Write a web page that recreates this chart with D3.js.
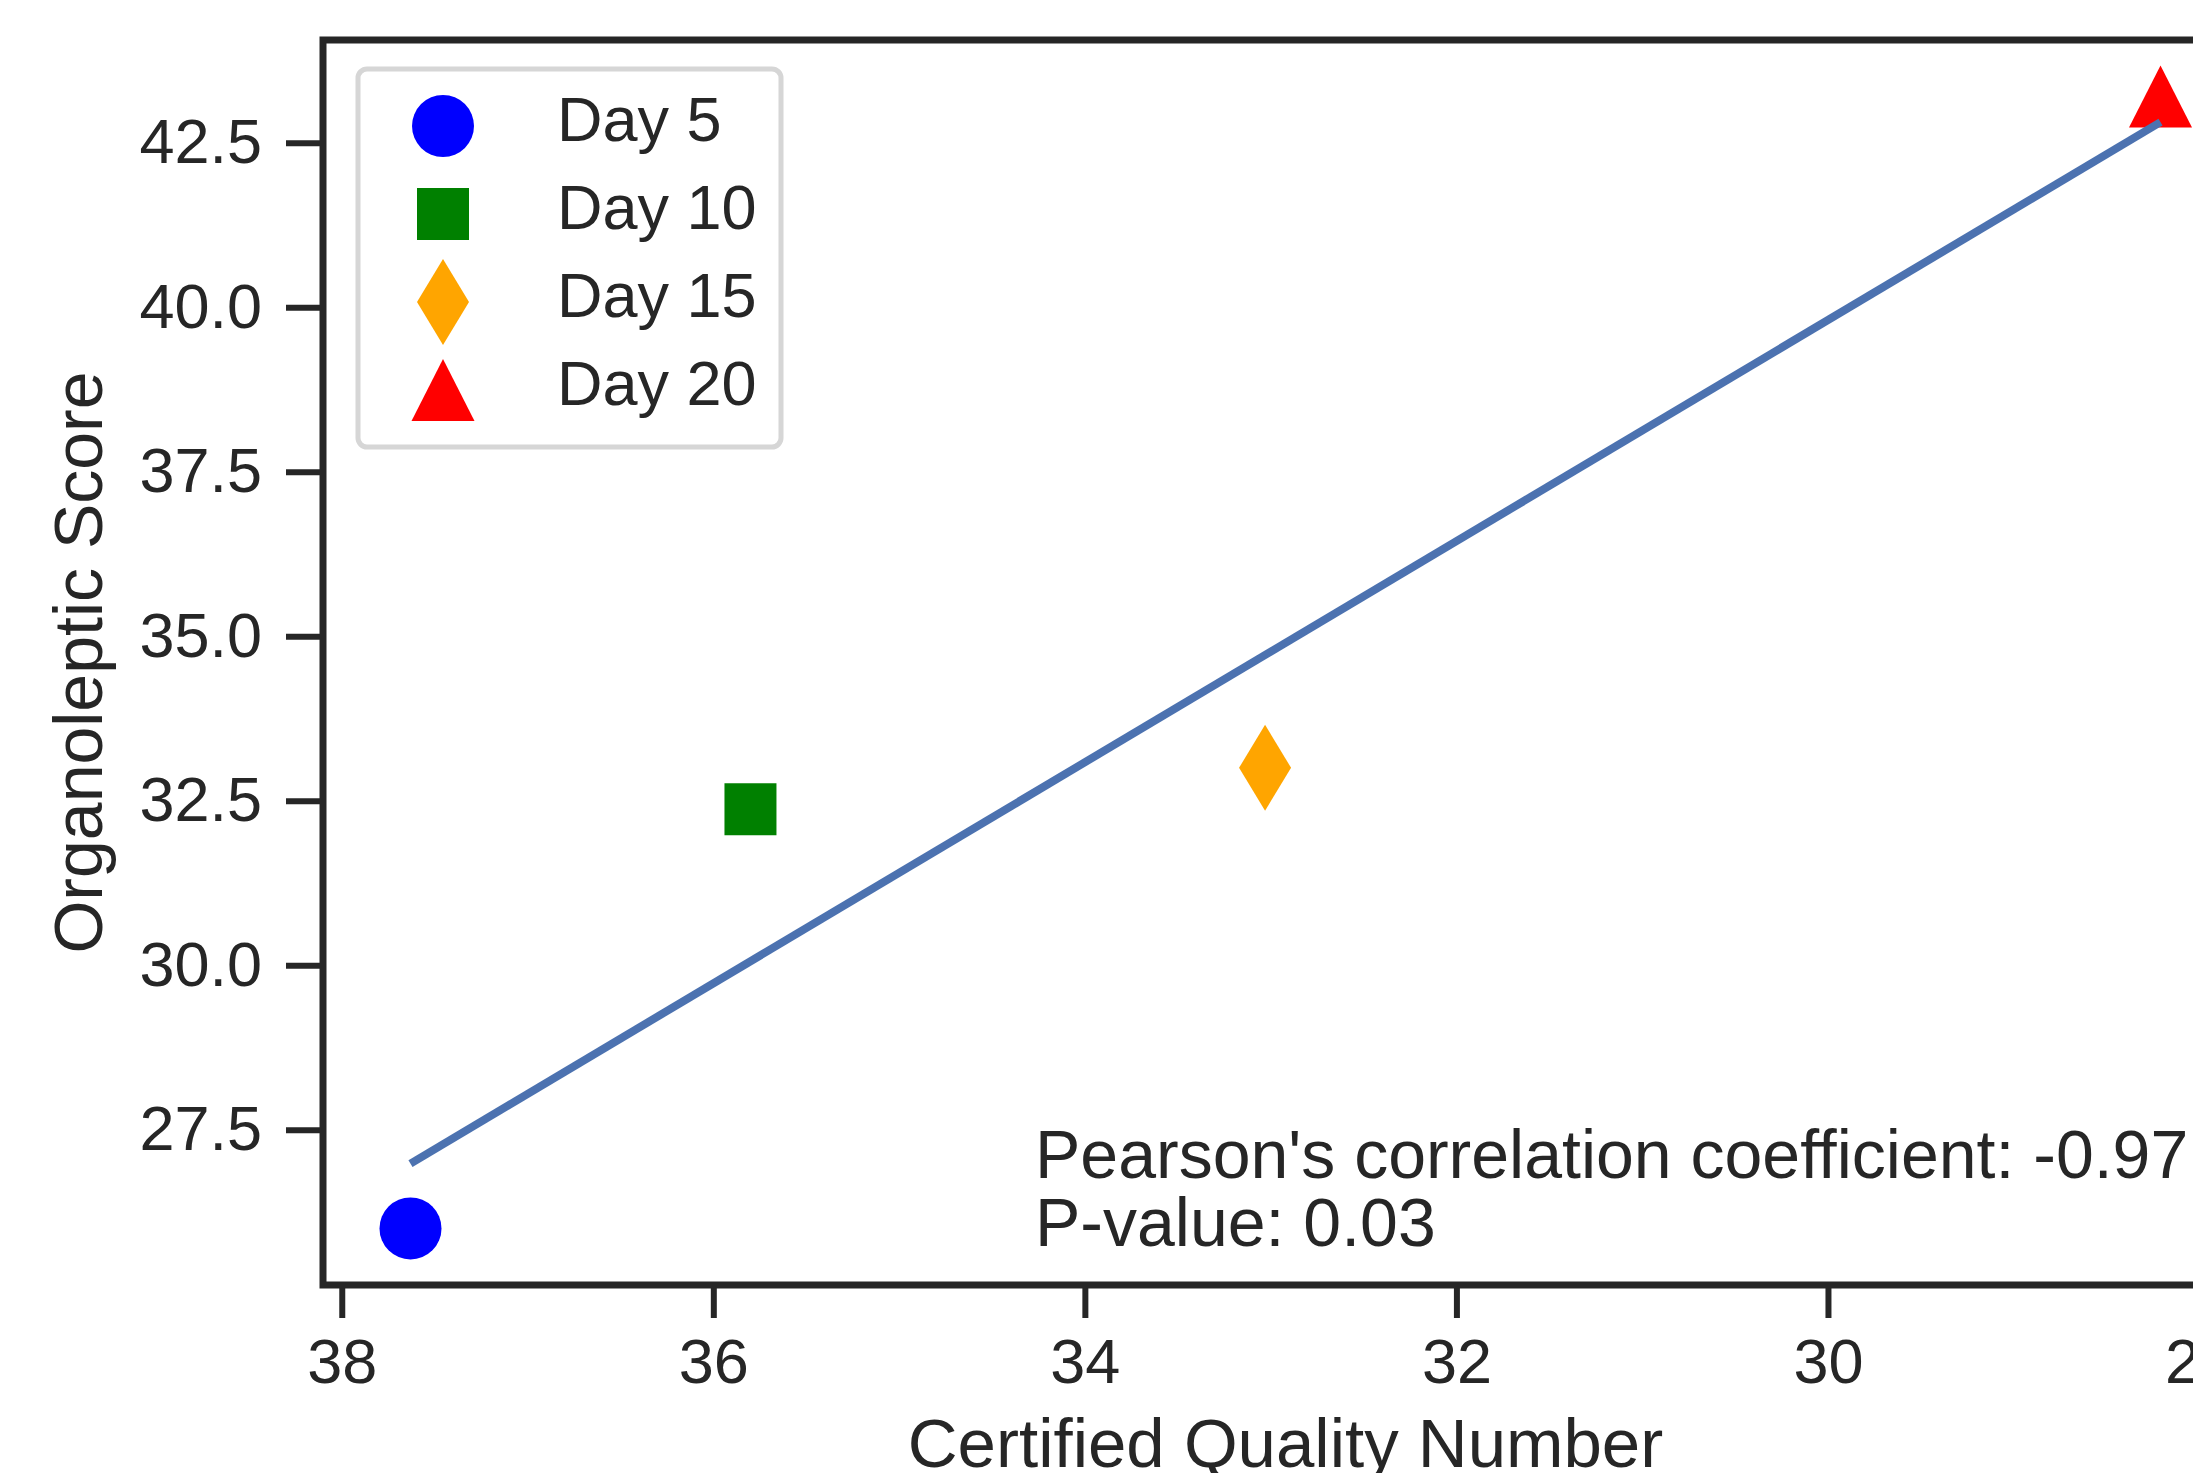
<!DOCTYPE html>
<html>
<head>
<meta charset="utf-8">
<script src="https://cdn.jsdelivr.net/npm/d3@7"></script>
<style>
  html, body { margin: 0; padding: 0; background: #fff; }
  svg { display: block; font-family: "Liberation Sans", Arial, sans-serif; }
</style>
</head>
<body>
<svg id="chart"></svg>
<script>
const width = 2193, height = 1473;

// data
const days = ["Day 5", "Day 10", "Day 15", "Day 20"];
const cqn = [37.63, 35.8, 33.03, 28.21];          // Certified Quality Number
const organoleptic = [26.0, 32.37, 33.0, 43.2];   // Organoleptic Score
const markerColors = ["blue", "green", "orange", "red"];
const markerShapes = ["circle", "square", "thin_diamond", "triangle"];
const xTicks = [38, 36, 34, 32, 30, 28];
const yTicks = [27.5, 30.0, 32.5, 35.0, 37.5, 40.0, 42.5];
const statLines = ["Pearson's correlation coefficient: -0.97", "P-value: 0.03"];

const ink = "#262626";
const axLeft = 323, axTop = 40, axBottom = 1285, axWidth = 1925;

const svg = d3.select("#chart")
    .attr("width", width)
    .attr("height", height)
    .attr("viewBox", `0 0 ${width} ${height}`);

svg.append("rect").attr("width", width).attr("height", height).attr("fill", "#fff");

// matplotlib-like 5% margins, x axis inverted
const xExt = d3.extent(cqn), yExt = d3.extent(organoleptic);
const xPad = (xExt[1] - xExt[0]) * 0.05, yPad = (yExt[1] - yExt[0]) * 0.05;

const x = d3.scaleLinear()
    .domain([xExt[1] + xPad, xExt[0] - xPad])
    .range([axLeft, axLeft + axWidth]);

const y = d3.scaleLinear()
    .domain([yExt[0] - yPad, yExt[1] + yPad])
    .range([axBottom, axTop]);

// axes
const xAxis = svg.append("g")
    .attr("transform", `translate(0,${axBottom})`)
    .call(d3.axisBottom(x).tickValues(xTicks).tickSize(33).tickPadding(20).tickFormat(d3.format("d")));
xAxis.select(".domain").remove();
xAxis.selectAll(".tick line").attr("stroke", ink).attr("stroke-width", 6);
xAxis.selectAll(".tick text")
    .attr("fill", ink).attr("font-size", 63)
    .attr("font-family", "'Liberation Sans', Arial, sans-serif");

const yAxis = svg.append("g")
    .attr("transform", `translate(${axLeft},0)`)
    .call(d3.axisLeft(y).tickValues(yTicks).tickSize(37).tickPadding(24).tickFormat(d3.format(".1f")));
yAxis.select(".domain").remove();
yAxis.selectAll(".tick line").attr("stroke", ink).attr("stroke-width", 6);
yAxis.selectAll(".tick text")
    .attr("fill", ink).attr("font-size", 63)
    .attr("font-family", "'Liberation Sans', Arial, sans-serif");

// markers
function markerPath(shape) {
    if (shape === "circle") return d3.symbol(d3.symbolCircle, Math.PI * 31 * 31)();
    if (shape === "square") return "M-26,-26H26V26H-26Z";
    if (shape === "thin_diamond") return "M0,-43L26,0L0,43L-26,0Z";
    return "M0,-31L31.5,31L-31.5,31Z";
}

const points = days.map((d, i) => ({day: d, x: cqn[i], y: organoleptic[i], color: markerColors[i], shape: markerShapes[i]}));

svg.append("g").selectAll("path")
    .data(points)
    .join("path")
    .attr("transform", d => `translate(${x(d.x)},${y(d.y)})`)
    .attr("d", d => markerPath(d.shape))
    .attr("fill", d => d.color);

// least-squares regression line
const mx = d3.mean(cqn), my = d3.mean(organoleptic);
const slope = d3.sum(cqn, (v, i) => (v - mx) * (organoleptic[i] - my)) / d3.sum(cqn, v => (v - mx) ** 2);
const intercept = my - slope * mx;
const fit = [xExt[0], xExt[1]].map(v => [v, intercept + slope * v]);

svg.append("path")
    .datum(fit)
    .attr("d", d3.line().x(d => x(d[0])).y(d => y(d[1])))
    .attr("fill", "none")
    .attr("stroke", "#4c72b0")
    .attr("stroke-width", 8);

// spines
const axRight = axLeft + axWidth;
svg.append("path")
    .attr("d", `M${axLeft},${axTop}H${axRight}V${axBottom}H${axLeft}Z`)
    .attr("fill", "none")
    .attr("stroke", ink)
    .attr("stroke-width", 7);

// stats annotation
const stats = svg.append("text")
    .attr("x", 1035)
    .attr("fill", ink)
    .attr("font-size", 68);
stats.selectAll("tspan")
    .data(statLines)
    .join("tspan")
    .attr("x", 1035)
    .attr("y", (d, i) => 1178 + i * 68)
    .text(d => d);

// axis labels
svg.append("text")
    .attr("x", axLeft + axWidth / 2)
    .attr("y", 1467)
    .attr("text-anchor", "middle")
    .attr("fill", ink)
    .attr("font-size", 69)
    .text("Certified Quality Number");

svg.append("text")
    .attr("transform", `translate(102,${(axTop + axBottom) / 2}) rotate(-90)`)
    .attr("text-anchor", "middle")
    .attr("fill", ink)
    .attr("font-size", 68)
    .text("Organoleptic Score");

// legend
const legend = svg.append("g");
legend.append("rect")
    .attr("x", 358).attr("y", 69)
    .attr("width", 423).attr("height", 378)
    .attr("rx", 9)
    .attr("fill", "#fff")
    .attr("stroke", "#d6d6d6")
    .attr("stroke-width", 5);

const rows = legend.selectAll("g.row")
    .data(points)
    .join("g")
    .attr("class", "row")
    .attr("transform", (d, i) => `translate(0,${126 + i * 88})`);

rows.append("path")
    .attr("transform", "translate(443,0)")
    .attr("d", d => markerPath(d.shape))
    .attr("fill", d => d.color);

rows.append("text")
    .attr("x", 557)
    .attr("y", 15)
    .attr("fill", ink)
    .attr("font-size", 63)
    .text(d => d.day);
</script>
</body>
</html>
